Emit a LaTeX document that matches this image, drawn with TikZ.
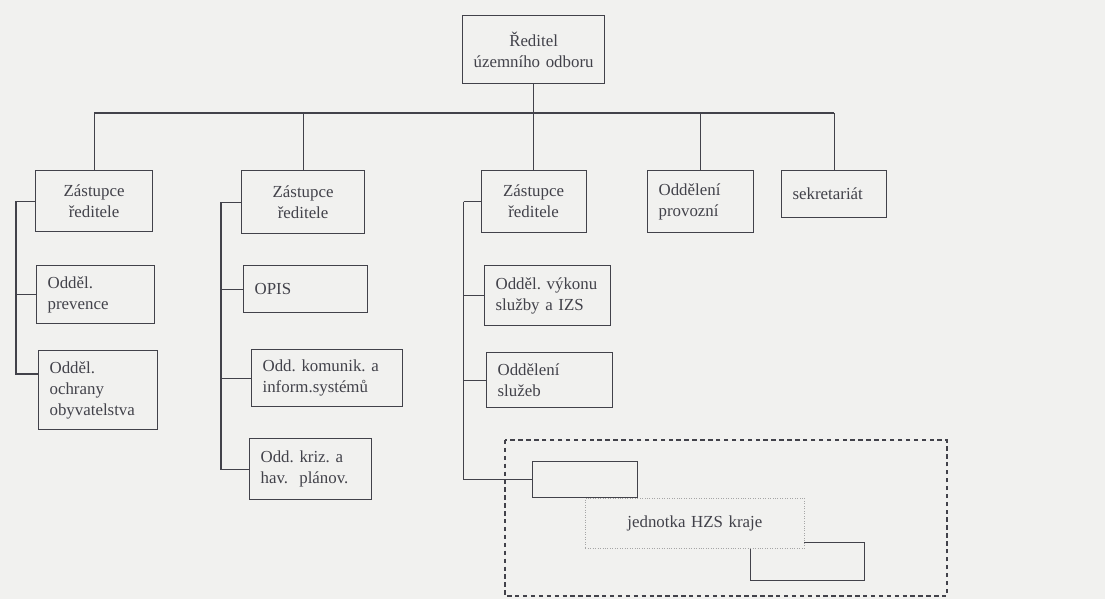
\documentclass[tikz,border=0pt]{standalone}
\usepackage{fontspec}
\setmainfont{Liberation Serif}
\usetikzlibrary{calc}

\definecolor{paper}{RGB}{241,241,239}
\definecolor{ink}{RGB}{66,66,74}

\frenchspacing

\begin{document}
\begin{tikzpicture}[
  font=\fontsize{9.6}{12}\selectfont,
  unit/.style={draw=ink, text=ink, line width=0.7pt, anchor=north west,
    inner xsep=0.22cm, inner ysep=0pt, align=left},
  head/.style={unit, align=center},
  link/.style={draw=ink, line width=0.7pt}
]

% Paper
\fill[paper] (0,0) rectangle (22.1,-11.98);
\useasboundingbox (0,0) rectangle (22.1,-11.98);

% Director
\node[head, text width=2.40cm, minimum height=1.36cm] (dir) at (9.24,-0.30) {Ředitel\\územního odboru};

% Level below the director
\node[head, text width=1.90cm, minimum height=1.22cm] (zr1) at (0.70,-3.40) {Zástupce\\ředitele};
\node[head, text width=2.02cm, minimum height=1.26cm] (zr2) at (4.82,-3.40) {Zástupce\\ředitele};
\node[head, text width=1.66cm, minimum height=1.24cm] (zr3) at (9.61,-3.40) {Zástupce\\ředitele};
\node[unit, text width=1.68cm, minimum height=1.24cm] (prov) at (12.94,-3.40) {Oddělení\\provozní};
\node[unit, text width=1.66cm, minimum height=0.94cm] (sek) at (15.62,-3.40) {sekretariát};

% First deputy
\node[unit, text width=1.92cm, minimum height=1.16cm] (prev) at (0.72,-5.30) {Odděl.\\prevence};
\node[unit, text width=1.94cm, minimum height=1.58cm] (ochr) at (0.76,-7.00) {Odděl.\\ochrany\\obyvatelstva};

% Second deputy
\node[unit, text width=2.04cm, minimum height=0.94cm] (opis) at (4.86,-5.30) {OPIS};
\node[unit, text width=2.58cm, minimum height=1.14cm] (kom) at (5.02,-6.98) {Odd. komunik. a\\inform.systémů};
\node[unit, text width=2.00cm, minimum height=1.22cm] (kriz) at (4.98,-8.76) {Odd. kriz. a\\hav.~ plánov.};

% Third deputy
\node[unit, text width=2.08cm, minimum height=1.20cm] (vyk) at (9.68,-5.30) {Odděl. výkonu\\služby a IZS};
\node[unit, text width=2.08cm, minimum height=1.10cm] (sluz) at (9.72,-7.04) {Oddělení\\služeb};
\node[unit, text width=1.66cm, minimum height=0.72cm] (jed1) at (10.64,-9.22) {};
\node[unit, text width=1.84cm, minimum height=0.76cm] (jed2) at (15.00,-10.84) {};
\node[head, draw=gray!70, line width=0.4pt, densely dotted, fill=paper,
  text width=3.94cm, minimum height=1.00cm] (hzs) at (11.70,-9.96) {jednotka HZS kraje};

% Unit frame
\draw[ink, line width=0.6pt, dash pattern=on 2.5pt off 2pt] (10.10,-8.80) rectangle (18.94,-11.92);

% Bus
\coordinate (bus) at (0,-2.26);
\draw[link] (zr1.north |- bus) -- (sek.north |- bus);
\draw[link] (dir.south) -- (dir.south |- bus);
\foreach \n in {zr1,zr2,zr3,prov,sek}
  \draw[link] (\n.north) -- (\n.north |- bus);

% Brackets
\coordinate (c1) at ($(zr1.west)+(-0.38,0)$);
\coordinate (c2) at ($(zr2.west)+(-0.40,0)$);
\coordinate (c3) at ($(zr3.west)+(-0.34,0)$);
\draw[link] (zr1.west) -- (c1) |- (prev.west);
\draw[link] (c1) |- ($(ochr.north west)!0.3!(ochr.south west)$);
\draw[link] (zr2.west) -- (c2);
\foreach \n in {opis,kom,kriz}
  \draw[link] (c2) |- (\n.west);
\draw[link] (zr3.west) -- (c3);
\foreach \n in {vyk,sluz,jed1}
  \draw[link] (c3) |- (\n.west);

\end{tikzpicture}
\end{document}
